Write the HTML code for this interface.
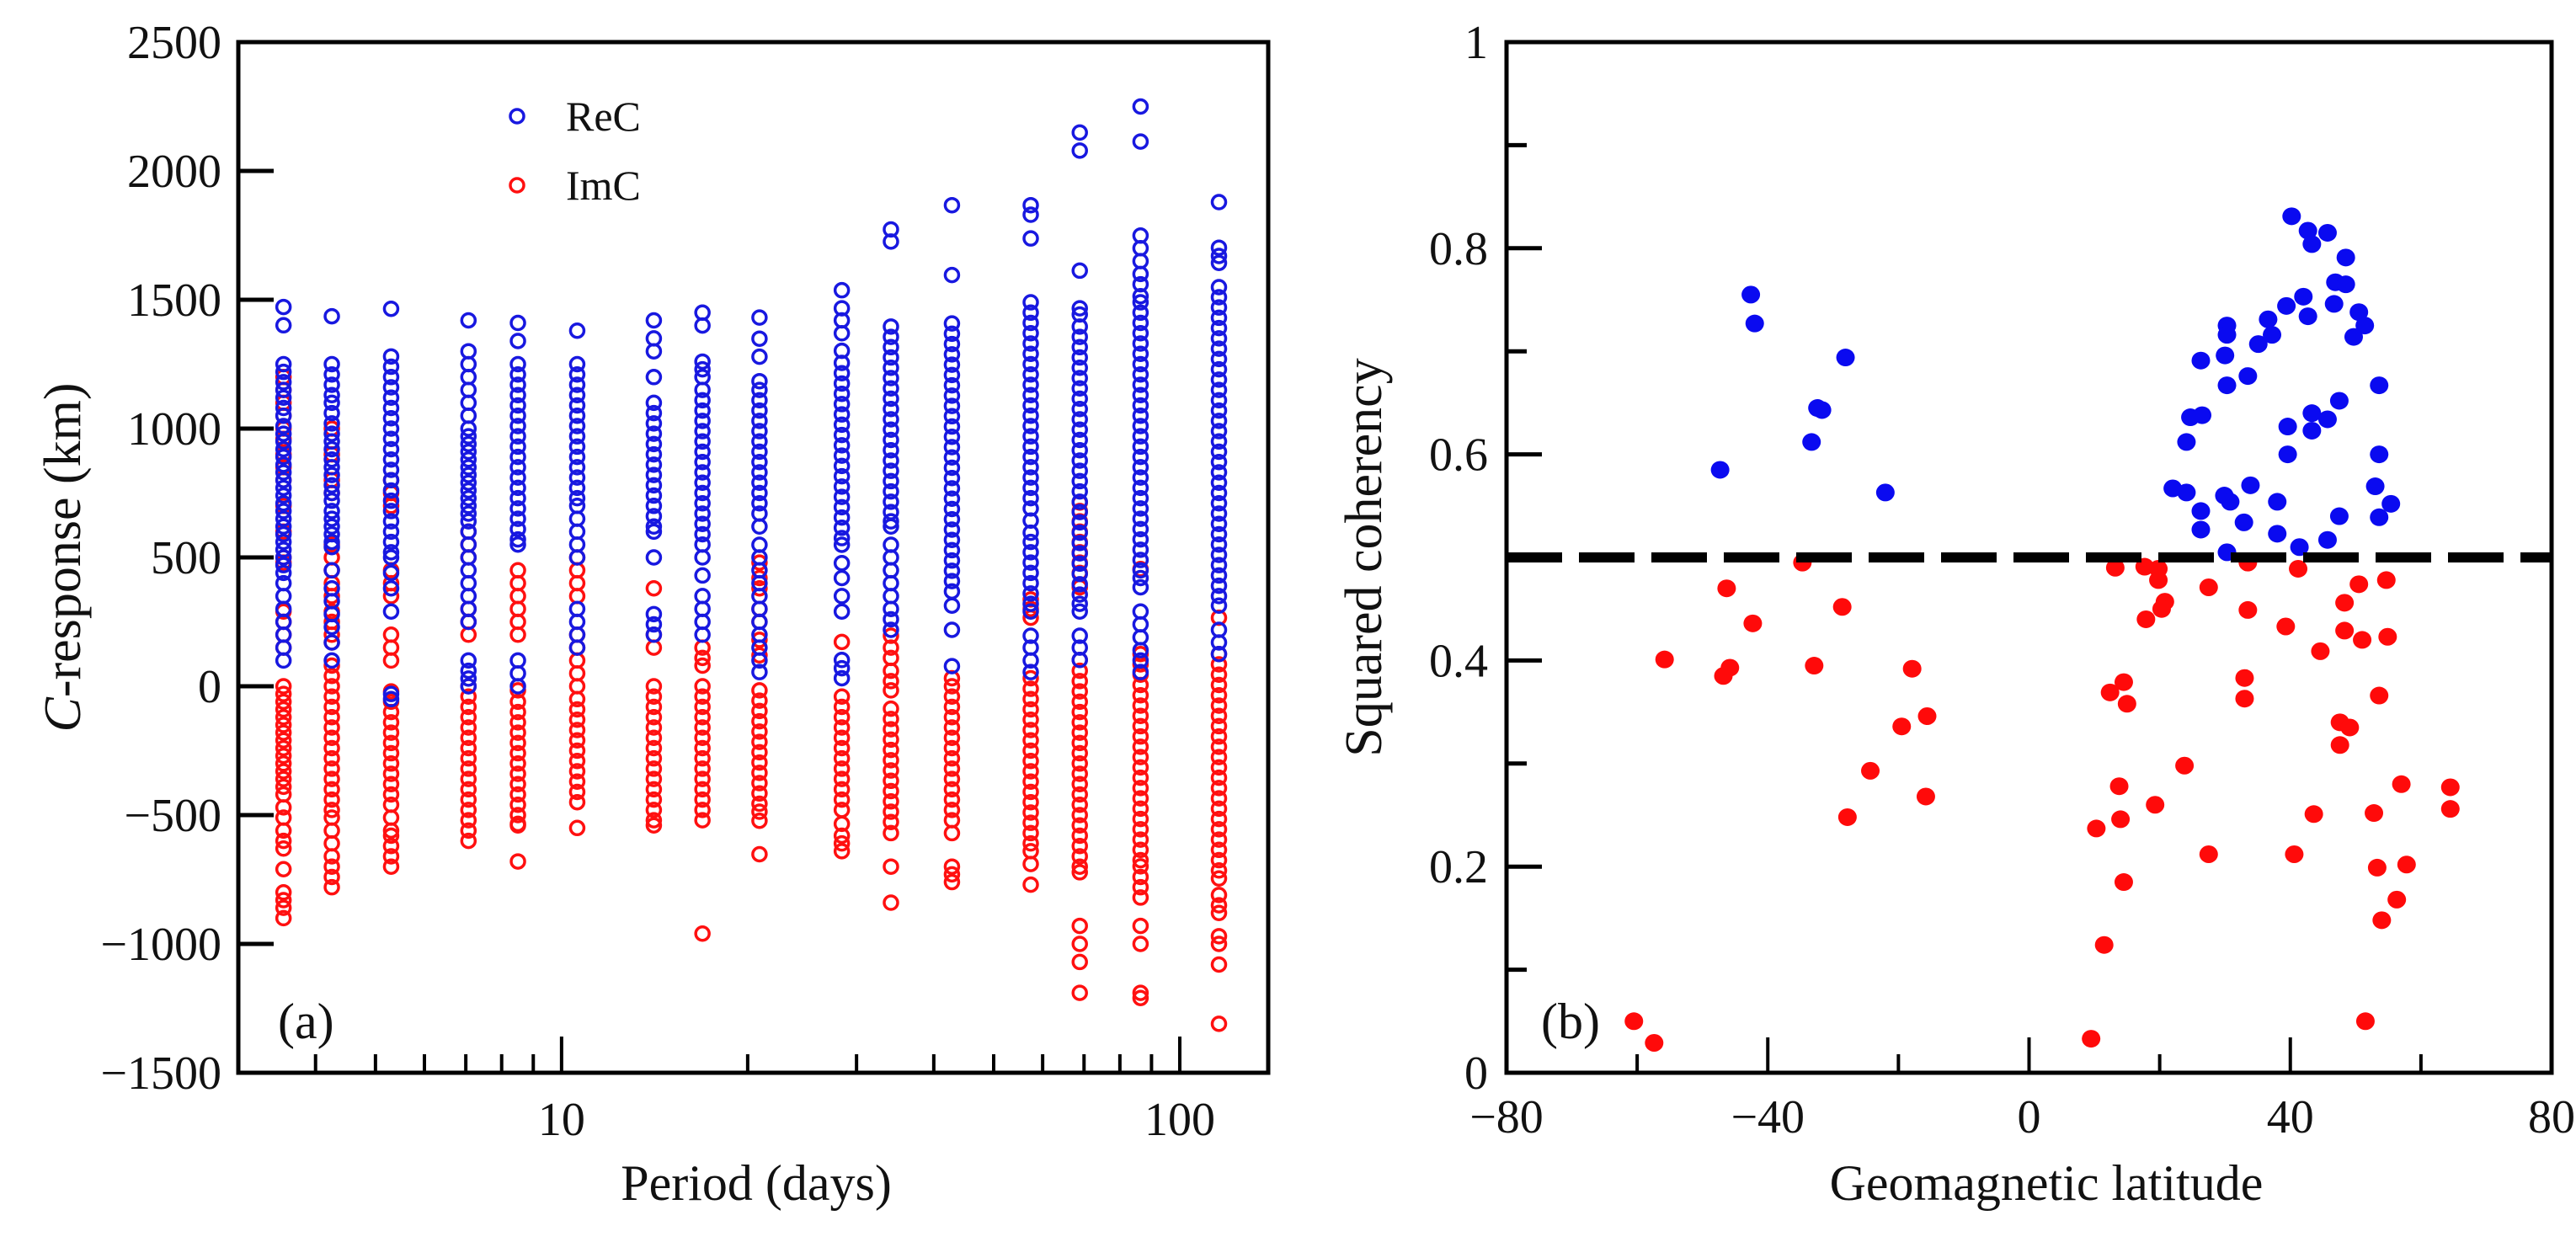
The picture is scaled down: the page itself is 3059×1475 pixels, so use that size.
<!DOCTYPE html>
<html><head><meta charset="utf-8">
<style>
html,body{margin:0;padding:0;background:#fff;}
svg{display:block;}
text{font-family:"Liberation Serif",serif;fill:#111;}
</style></head>
<body>
<svg id="fig" width="3059" height="1475" viewBox="0 0 3059 1475" xmlns="http://www.w3.org/2000/svg">
<rect x="0" y="0" width="3059" height="1475" fill="#fff"/>
<g id="pa"></g>
<g id="pb"></g>
</svg>
<script>
// ---------- Panel (a) data ----------
const periods = [3.55,4.25,5.3,7.07,8.5,10.6,14.1,16.9,20.9,28.4,34.1,42.8,57.4,68.9,86.4,115.7];
const reC = [
[1472,1401,1250,1220,1180,1150,1120,1080,1050,1010,980,950,920,890,860,830,800,770,740,710,680,650,620,590,560,530,500,470,440,400,350,300,250,200,150,100],
[1436,1250,1210,1170,1130,1100,1060,1020,980,950,920,880,850,820,780,750,720,680,650,620,590,560,540,450,380,330,280,230,170,100],
[1465,1280,1240,1200,1160,1120,1080,1040,1000,960,920,880,840,800,760,720,680,640,600,560,520,500,440,380,290,-30,-50],
[1420,1300,1250,1200,1150,1100,1050,1000,970,940,910,880,850,820,790,760,730,700,670,640,600,550,500,450,400,350,300,250,100,60,30,0],
[1410,1340,1250,1210,1170,1130,1090,1050,1010,970,930,890,850,810,770,730,690,650,610,570,550,100,50,0],
[1380,1250,1210,1170,1130,1090,1050,1010,970,930,890,850,810,770,730,700,650,600,550,500,300,250,200,150],
[1420,1350,1300,1200,1100,1060,1020,980,940,900,860,820,780,740,700,660,620,600,500,280,240,200],
[1450,1400,1260,1230,1200,1150,1110,1070,1030,990,950,910,870,830,790,750,710,670,630,590,550,500,430,350,300,250,200],
[1431,1349,1279,1184,1150,1110,1070,1030,990,950,910,870,830,790,750,710,670,620,549,500,450,400,350,300,250,200,150,100,55],
[1537,1467,1420,1370,1302,1255,1215,1175,1135,1095,1055,1015,975,935,895,855,815,775,735,695,655,615,575,549,478,420,350,290,102,70,31],
[1773,1726,1396,1356,1316,1276,1236,1196,1156,1116,1076,1036,996,956,916,876,836,796,756,716,676,640,620,549,500,450,400,350,300,260,219],
[1867,1596,1408,1368,1328,1288,1248,1208,1168,1128,1088,1048,1008,968,928,888,848,808,768,728,688,648,608,568,528,488,448,408,368,313,219,78],
[1867,1830,1738,1490,1450,1410,1370,1330,1290,1250,1210,1170,1130,1090,1050,1010,970,930,890,850,810,770,730,690,643,596,560,520,480,440,400,360,320,290,196,150,100,55],
[2149,2079,1613,1467,1443,1396,1356,1316,1276,1236,1196,1156,1116,1076,1036,996,956,916,876,836,796,756,716,676,636,596,556,516,476,436,396,356,320,290,196,150,102],
[2250,2114,1749,1700,1650,1600,1560,1514,1490,1450,1410,1370,1330,1290,1250,1210,1170,1130,1090,1050,1010,970,930,890,850,810,770,730,690,650,610,570,530,490,450,420,384,290,240,190,140,100,55],
[1879,1702,1670,1643,1549,1510,1470,1430,1390,1350,1310,1270,1230,1190,1150,1110,1070,1030,990,950,910,870,830,790,750,710,670,630,590,550,510,470,430,390,350,313,219,170,125]
];
const imC = [
[1200,1150,1100,1050,1000,960,900,850,800,700,600,500,480,290,250,200,150,0,-30,-60,-90,-120,-150,-180,-210,-240,-270,-300,-330,-360,-390,-420,-470,-510,-560,-600,-630,-710,-800,-830,-860,-900],
[1000,900,800,750,550,500,450,400,350,290,250,200,170,80,40,0,-40,-80,-120,-160,-200,-240,-280,-320,-360,-400,-440,-480,-510,-560,-610,-660,-700,-740,-780],
[800,750,700,450,400,350,200,150,100,-20,-60,-100,-140,-180,-220,-260,-300,-340,-380,-420,-460,-510,-560,-580,-620,-660,-700],
[600,550,500,300,250,200,0,-40,-80,-120,-160,-200,-240,-280,-320,-360,-400,-440,-480,-520,-560,-600],
[450,400,350,300,250,200,-16,-60,-100,-140,-180,-220,-260,-300,-340,-380,-420,-460,-500,-534,-540,-680],
[500,450,400,350,200,150,100,50,0,-50,-90,-130,-170,-210,-250,-290,-330,-370,-410,-450,-550],
[380,200,150,0,-40,-80,-120,-160,-200,-240,-280,-320,-360,-400,-440,-480,-520,-540],
[150,110,80,0,-40,-80,-120,-160,-200,-240,-280,-320,-360,-400,-440,-480,-520,-960],
[480,420,380,300,250,180,120,-16,-56,-96,-136,-176,-216,-256,-296,-336,-376,-416,-456,-487,-522,-652],
[172,-40,-80,-120,-160,-200,-240,-280,-320,-360,-400,-440,-480,-534,-580,-610,-640],
[196,150,110,60,20,-16,-87,-127,-167,-207,-247,-287,-327,-367,-407,-447,-487,-527,-570,-700,-840],
[31,0,-40,-80,-120,-160,-200,-240,-280,-320,-360,-400,-440,-480,-520,-570,-700,-730,-760],
[337,300,266,31,-10,-50,-90,-130,-170,-210,-250,-290,-330,-370,-410,-450,-490,-530,-570,-610,-640,-690,-770],
[713,680,640,600,560,520,480,440,384,102,60,20,-20,-60,-100,-140,-180,-220,-260,-300,-340,-380,-420,-460,-500,-540,-580,-620,-660,-700,-722,-930,-1000,-1070,-1190],
[455,125,85,45,5,-35,-75,-115,-155,-195,-235,-275,-315,-355,-395,-435,-475,-515,-555,-595,-635,-675,-699,-740,-780,-820,-930,-1000,-1190,-1210],
[266,125,85,45,5,-35,-75,-115,-155,-195,-235,-275,-315,-355,-395,-435,-475,-515,-555,-595,-635,-675,-715,-746,-810,-850,-880,-970,-1000,-1080,-1310]
];
const aYTicks = [2500,2000,1500,1000,500,0,-500,-1000,-1500];
const aYTickLabels = ["2500","2000","1500","1000","500","0","\u2212500","\u22121000","\u22121500"];
const aXMajor = [10,100];
const aXMajorLabels = ["10","100"];
const aXMinor = [4,5,6,7,8,9,20,30,40,50,60,70,80,90];

// ---------- Panel (b) data ----------
const blueLat = [-47.3,-42.6,-42.0,-33.3,-32.4,-31.7,-28.1,-22.0,22.0,24.1,24.1,24.7,26.5,26.3,26.3,26.3,29.9,30.8,30.0,30.3,30.3,30.3,30.3,33.5,33.9,32.9,35.1,36.6,37.2,38.0,38.0,39.4,39.6,39.6,40.2,42.0,42.7,42.7,43.3,43.3,43.3,41.4,45.7,45.7,45.7,46.7,46.9,47.5,48.5,48.5,47.5,49.7,50.5,51.4,53.6,53.6,53.0,53.6,55.4];
const blueCoh = [0.585,0.755,0.727,0.612,0.645,0.643,0.694,0.563,0.567,0.563,0.612,0.636,0.638,0.691,0.545,0.527,0.560,0.554,0.696,0.667,0.725,0.716,0.505,0.676,0.570,0.534,0.707,0.731,0.716,0.554,0.523,0.744,0.627,0.600,0.831,0.753,0.817,0.734,0.804,0.640,0.623,0.510,0.815,0.634,0.517,0.746,0.767,0.652,0.791,0.765,0.540,0.714,0.738,0.725,0.667,0.600,0.569,0.539,0.552];
const redLat = [-34.7,-46.3,-42.3,-55.8,-45.8,-46.8,-32.9,-28.6,-17.9,-19.5,-15.6,-24.3,-15.8,-27.8,-60.5,-57.4,13.2,17.7,19.8,19.8,20.8,20.3,17.9,27.5,33.5,33.5,39.3,41.2,44.6,48.3,50.5,54.7,48.3,51.0,54.9,14.5,12.4,15.0,33.0,33.0,53.6,47.6,49.1,47.6,23.8,13.8,19.3,14.0,10.3,43.6,52.8,57.0,64.5,64.5,27.5,40.6,53.3,57.8,56.3,54.0,14.5,11.5,9.5,51.5];
const redCoh = [0.495,0.470,0.436,0.401,0.393,0.385,0.395,0.452,0.392,0.336,0.346,0.293,0.268,0.248,0.050,0.029,0.490,0.491,0.489,0.478,0.457,0.450,0.440,0.471,0.495,0.449,0.433,0.489,0.409,0.456,0.474,0.478,0.429,0.420,0.423,0.379,0.369,0.358,0.383,0.363,0.366,0.340,0.335,0.318,0.298,0.278,0.260,0.246,0.237,0.251,0.252,0.280,0.277,0.256,0.212,0.212,0.199,0.202,0.168,0.148,0.185,0.124,0.033,0.050];
const bXTicks = [-80,-40,0,40,80];
const bXTickLabels = ["\u221280","\u221240","0","40","80"];
const bXMinor = [-60,-20,20,60];
const bYTicks = [0,0.2,0.4,0.6,0.8,1];
const bYTickLabels = ["0","0.2","0.4","0.6","0.8","1"];
const bYMinor = [0.1,0.3,0.5,0.7,0.9];
const threshold = 0.5;

const NS = "http://www.w3.org/2000/svg";
function mk(parent, tag, attrs, txt){
  const e = document.createElementNS(NS, tag);
  for (const k in attrs) e.setAttribute(k, attrs[k]);
  if (txt !== undefined) e.textContent = txt;
  parent.appendChild(e);
  return e;
}

// ---------- Panel (a) ----------
const pa = document.getElementById('pa');
const aL=283, aR=1506, aT=50, aB=1274;
const aLogMin=Math.log10(3), aLogMax=Math.log10(139);
function ax(p){ return aL + (Math.log10(p)-aLogMin)/(aLogMax-aLogMin)*(aR-aL); }
function ay(v){ return aT + (2500 - v)/4000*(aB-aT); }

const gIm = mk(pa,'g',{});


const gRe = mk(pa,'g',{});


periods.forEach((p,i)=>{
  imC[i].forEach(v=>{
    const c = mk(gIm,'circle',{cx:ax(p),cy:ay(v),r:8,fill:'none',stroke:'#ff1010','stroke-width':3.5});
    
    
  });
});
periods.forEach((p,i)=>{
  reC[i].forEach(v=>{
    const c = mk(gRe,'circle',{cx:ax(p),cy:ay(v),r:8,fill:'none',stroke:'#1818e0','stroke-width':3.5});
    
    
  });
});
const fa = mk(pa,'rect',{x:aL,y:aT,width:aR-aL,height:aB-aT,fill:'none',stroke:'#000','stroke-width':5});


aYTicks.forEach((v,i)=>{
  const y=ay(v);
  const t = mk(pa,'line',{x1:aL,x2:aL+42,y1:y,y2:y,stroke:'#000','stroke-width':5});
  
  
  const l = mk(pa,'text',{x:aL-20,y:y+19,'font-size':56,'text-anchor':'end'},aYTickLabels[i]);
  
  
});
aXMajor.forEach((p,i)=>{
  const x=ax(p);
  const t = mk(pa,'line',{x1:x,x2:x,y1:aB,y2:aB-43,stroke:'#000','stroke-width':4});
  
  
  const l = mk(pa,'text',{x:x,y:1348,'font-size':56,'text-anchor':'middle'},aXMajorLabels[i]);
  
  
});
aXMinor.forEach(p=>{
  const x=ax(p);
  const t = mk(pa,'line',{x1:x,x2:x,y1:aB,y2:aB-22,stroke:'#000','stroke-width':4});
  
  
});
const xta = mk(pa,'text',{x:898,y:1425,'font-size':60,'text-anchor':'middle'},'Period (days)');


const yta = mk(pa,'text',{x:0,y:0,'font-size':62,'text-anchor':'middle',transform:'translate(95,662) rotate(-90)'});


mk(yta,'tspan',{'font-style':'italic'},'C');
mk(yta,'tspan',{},'-response (km)');
const pla = mk(pa,'text',{x:330,y:1233,'font-size':60},'(a)');


const lg = mk(pa,'g',{});


const le1 = mk(lg,'circle',{cx:614,cy:138,r:8,fill:'none',stroke:'#1818e0','stroke-width':3.5});


const lt1 = mk(lg,'text',{x:672,y:155,'font-size':50},'ReC');


const le2 = mk(lg,'circle',{cx:614,cy:220,r:8,fill:'none',stroke:'#ff1010','stroke-width':3.5});


const lt2 = mk(lg,'text',{x:672,y:237,'font-size':50},'ImC');



// ---------- Panel (b) ----------
const pb = document.getElementById('pb');
const bL=1789, bR=3030, bT=50, bB=1274;
function bx(v){ return bL + (v+80)/160*(bR-bL); }
function by(v){ return bB - v*(bB-bT); }

const gBlue = mk(pb,'g',{});


blueLat.forEach((v,i)=>{
  const c = mk(gBlue,'ellipse',{cx:bx(v),cy:by(blueCoh[i]),rx:11,ry:10.5,fill:'#0a0af0'});
  
  
});
const gRed = mk(pb,'g',{});


redLat.forEach((v,i)=>{
  const c = mk(gRed,'ellipse',{cx:bx(v),cy:by(redCoh[i]),rx:11,ry:10.5,fill:'#ff0a0a'});
  
  
});
const th = mk(pb,'line',{x1:bL,x2:bR,y1:by(threshold),y2:by(threshold),stroke:'#000','stroke-width':12,'stroke-dasharray':'66 20'});


const fb = mk(pb,'rect',{x:bL,y:bT,width:bR-bL,height:bB-bT,fill:'none',stroke:'#000','stroke-width':5});


bYTicks.forEach((v,i)=>{
  const y=by(v);
  const t = mk(pb,'line',{x1:bL,x2:bL+42,y1:y,y2:y,stroke:'#000','stroke-width':5});
  
  
  const l = mk(pb,'text',{x:bL-22,y:y+19,'font-size':56,'text-anchor':'end'},bYTickLabels[i]);
  
  
});
bYMinor.forEach(v=>{
  const y=by(v);
  const t = mk(pb,'line',{x1:bL,x2:bL+24,y1:y,y2:y,stroke:'#000','stroke-width':5});
  
  
});
bXTicks.forEach((v,i)=>{
  const x=bx(v);
  const t = mk(pb,'line',{x1:x,x2:x,y1:bB,y2:bB-42,stroke:'#000','stroke-width':4});
  
  
  const l = mk(pb,'text',{x:x,y:1345,'font-size':56,'text-anchor':'middle'},bXTickLabels[i]);
  
  
});
bXMinor.forEach(v=>{
  const x=bx(v);
  const t = mk(pb,'line',{x1:x,x2:x,y1:bB,y2:bB-22,stroke:'#000','stroke-width':4});
  
  
});
const xtb = mk(pb,'text',{x:2430,y:1425,'font-size':60,'text-anchor':'middle'},'Geomagnetic latitude');


const ytb = mk(pb,'text',{x:0,y:0,'font-size':62,'text-anchor':'middle',transform:'translate(1640,662) rotate(-90)'},'Squared coherency');


const plb = mk(pb,'text',{x:1830,y:1233,'font-size':60},'(b)');


</script>
</body></html>
